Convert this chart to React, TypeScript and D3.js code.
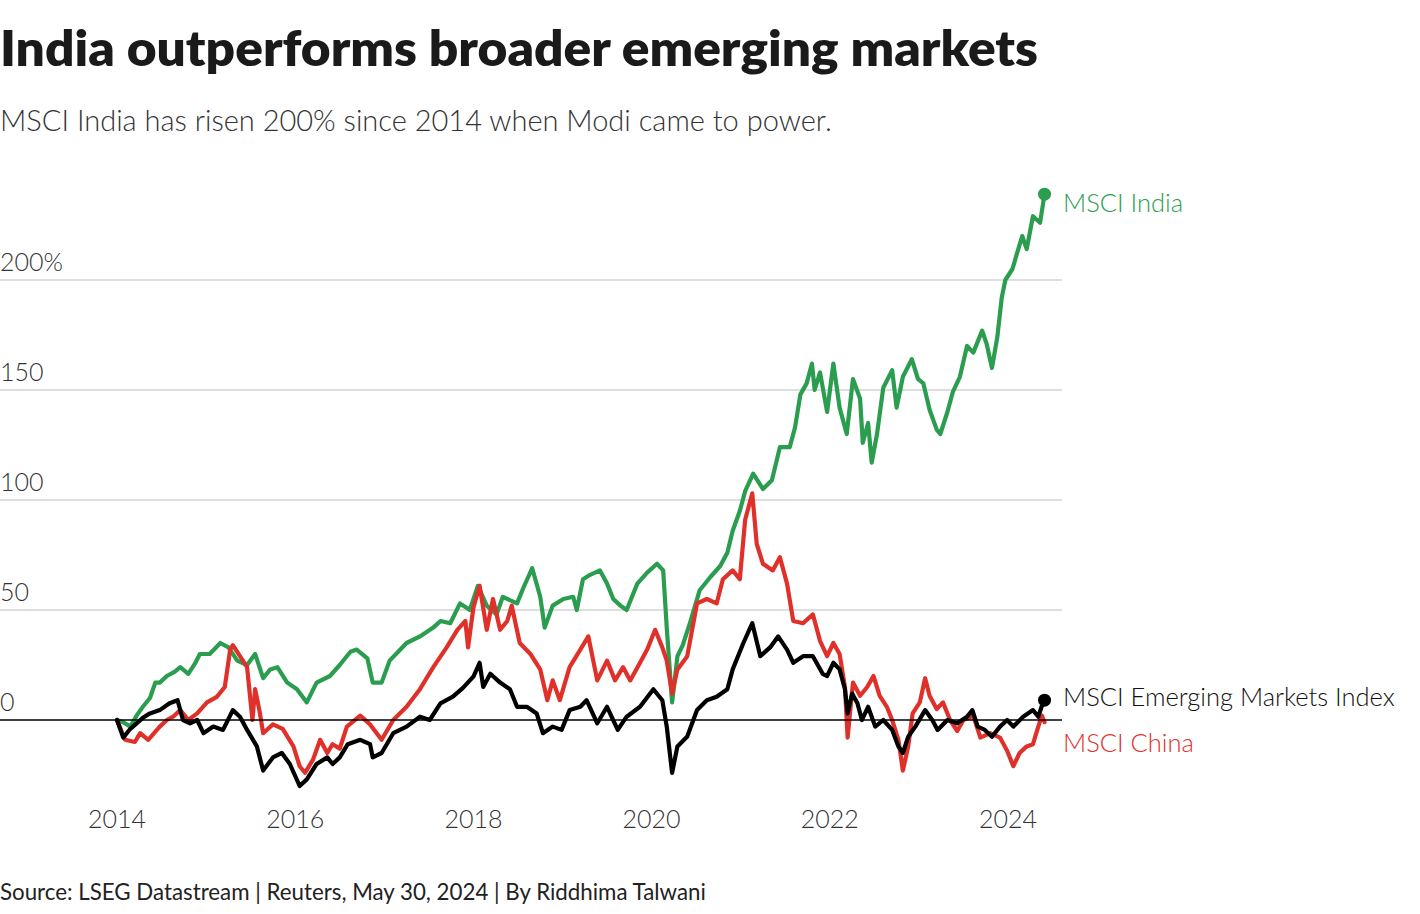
import React from 'react';
import * as d3 from 'd3';

// [decimal year, % change since start]
const india: [number, number][] = [
  [2014.00, 0], [2014.07, -1], [2014.15, -3], [2014.22, 2], [2014.29, 6], [2014.37, 10], [2014.43, 17], [2014.48, 17],
  [2014.56, 20], [2014.65, 22], [2014.71, 24], [2014.80, 21], [2014.88, 26], [2014.93, 30], [2015.04, 30], [2015.16, 35],
  [2015.25, 33], [2015.35, 27], [2015.46, 25], [2015.55, 30], [2015.64, 19], [2015.72, 23], [2015.80, 24], [2015.91, 17],
  [2016.02, 14], [2016.13, 8], [2016.24, 17], [2016.39, 20], [2016.50, 25], [2016.62, 31], [2016.69, 32], [2016.81, 28],
  [2016.87, 17], [2016.97, 17], [2017.06, 27], [2017.25, 35], [2017.40, 38], [2017.55, 42], [2017.63, 45], [2017.74, 44],
  [2017.85, 53], [2017.96, 50], [2018.05, 61], [2018.15, 52], [2018.26, 48], [2018.33, 56], [2018.49, 53], [2018.56, 60],
  [2018.66, 69], [2018.75, 56], [2018.80, 42], [2018.89, 52], [2019.01, 55], [2019.12, 56], [2019.16, 50], [2019.23, 64],
  [2019.31, 66], [2019.42, 68], [2019.50, 62], [2019.57, 55], [2019.65, 52], [2019.72, 50], [2019.84, 62], [2019.95, 67],
  [2020.06, 71], [2020.13, 68], [2020.17, 42], [2020.23, 8], [2020.29, 29], [2020.35, 34], [2020.43, 44], [2020.54, 59],
  [2020.66, 65], [2020.77, 70], [2020.85, 76], [2020.91, 86], [2020.99, 95], [2021.05, 104], [2021.14, 112], [2021.25, 105],
  [2021.35, 109], [2021.44, 124], [2021.55, 124], [2021.61, 133], [2021.67, 148], [2021.74, 153], [2021.80, 162], [2021.83, 150],
  [2021.89, 158], [2021.97, 140], [2022.04, 162], [2022.11, 142], [2022.19, 130], [2022.26, 155], [2022.34, 146], [2022.37, 126],
  [2022.43, 135], [2022.47, 117], [2022.53, 130], [2022.60, 151], [2022.65, 155], [2022.70, 159], [2022.75, 142], [2022.82, 156],
  [2022.92, 164], [2022.99, 155], [2023.05, 153], [2023.12, 141], [2023.20, 132], [2023.24, 130], [2023.32, 140], [2023.38, 149],
  [2023.46, 156], [2023.54, 170], [2023.61, 167], [2023.71, 177], [2023.76, 171], [2023.82, 160], [2023.88, 174], [2023.93, 192],
  [2023.97, 200], [2024.05, 205], [2024.10, 212], [2024.16, 220], [2024.21, 214], [2024.28, 229], [2024.36, 226], [2024.41, 239],
];

const china: [number, number][] = [
  [2014.00, 0], [2014.09, -9], [2014.20, -10], [2014.26, -6], [2014.35, -9], [2014.48, -3], [2014.56, 0], [2014.63, 1.5],
  [2014.71, 4.5], [2014.80, 0], [2014.90, 3], [2015.01, 8], [2015.12, 10.5], [2015.21, 15], [2015.27, 32], [2015.30, 34],
  [2015.38, 29], [2015.46, 24], [2015.52, 0], [2015.55, 14], [2015.60, 4], [2015.64, -6], [2015.75, -2], [2015.86, -4],
  [2015.98, -12], [2016.05, -21], [2016.11, -24], [2016.20, -18], [2016.28, -9], [2016.36, -15], [2016.42, -11], [2016.50, -13],
  [2016.58, -3], [2016.73, 2], [2016.84, -2], [2016.97, -9], [2017.10, 0], [2017.25, 6], [2017.40, 14], [2017.55, 24],
  [2017.70, 33], [2017.82, 41], [2017.91, 45], [2017.94, 33], [2018.00, 51], [2018.07, 61], [2018.15, 41], [2018.22, 55],
  [2018.30, 41], [2018.38, 45], [2018.43, 52], [2018.52, 35], [2018.64, 30], [2018.75, 23], [2018.83, 9], [2018.89, 18],
  [2018.97, 9], [2019.08, 24], [2019.20, 32], [2019.29, 38], [2019.39, 18], [2019.50, 27], [2019.59, 18], [2019.68, 24],
  [2019.76, 18], [2019.87, 26], [2019.95, 32], [2020.04, 41], [2020.12, 33], [2020.17, 27], [2020.23, 12], [2020.29, 23],
  [2020.40, 29], [2020.51, 53], [2020.62, 55], [2020.73, 53], [2020.80, 64], [2020.91, 68], [2020.99, 64], [2021.05, 91],
  [2021.13, 103], [2021.18, 80], [2021.25, 71], [2021.36, 68], [2021.44, 74], [2021.52, 62], [2021.59, 45], [2021.70, 44],
  [2021.81, 48], [2021.89, 36], [2021.97, 29], [2022.04, 35], [2022.11, 30], [2022.17, 15], [2022.20, -8], [2022.26, 17],
  [2022.34, 11], [2022.42, 15], [2022.49, 20], [2022.56, 11], [2022.64, 6], [2022.70, 0], [2022.77, -9], [2022.82, -23],
  [2022.88, -12], [2022.93, 3], [2023.01, 8], [2023.07, 19], [2023.12, 11], [2023.20, 5], [2023.27, 8], [2023.35, 0],
  [2023.43, -5], [2023.50, 0], [2023.61, 2], [2023.69, -8], [2023.80, -6], [2023.91, -8], [2023.99, -14], [2024.06, -21],
  [2024.13, -15], [2024.21, -12], [2024.28, -11], [2024.34, -3], [2024.38, 2], [2024.41, -1],
];

const emerging: [number, number][] = [
  [2014.00, 0], [2014.07, -8], [2014.15, -4], [2014.22, -1.5], [2014.29, 1], [2014.37, 3], [2014.48, 4.5], [2014.59, 7.6],
  [2014.68, 9], [2014.74, 0], [2014.82, -1.5], [2014.90, 0], [2014.97, -6], [2015.08, -3], [2015.19, -4.5], [2015.30, 4.5],
  [2015.38, 1.5], [2015.46, -4.5], [2015.57, -12], [2015.64, -23], [2015.75, -17], [2015.85, -15], [2015.94, -20], [2016.05, -30],
  [2016.13, -27], [2016.24, -20], [2016.36, -17], [2016.42, -20], [2016.50, -17], [2016.59, -11], [2016.73, -9], [2016.84, -11],
  [2016.87, -17], [2016.97, -15], [2017.10, -6], [2017.25, -3], [2017.40, 1.5], [2017.51, 0], [2017.63, 7.6], [2017.77, 10.6],
  [2017.88, 14.5], [2018.00, 19.7], [2018.07, 26], [2018.11, 15], [2018.19, 21], [2018.30, 17], [2018.41, 14], [2018.49, 6],
  [2018.60, 6], [2018.71, 3], [2018.78, -6], [2018.89, -3], [2018.99, -4.5], [2019.08, 4.5], [2019.20, 6], [2019.27, 9],
  [2019.39, -1.5], [2019.50, 6], [2019.62, -4.5], [2019.72, 1.5], [2019.87, 6], [2020.02, 14], [2020.12, 9], [2020.17, -3],
  [2020.23, -24], [2020.29, -12], [2020.40, -7.5], [2020.51, 4.5], [2020.62, 9], [2020.73, 10.6], [2020.85, 14], [2020.91, 23],
  [2021.03, 35], [2021.13, 44], [2021.22, 29], [2021.33, 33], [2021.42, 38], [2021.52, 32], [2021.59, 26], [2021.70, 29],
  [2021.81, 29], [2021.92, 21], [2021.97, 20], [2022.04, 26], [2022.11, 23], [2022.17, 14], [2022.20, 3], [2022.25, 12],
  [2022.31, 7.6], [2022.36, 0], [2022.43, 6], [2022.51, -3], [2022.60, 0], [2022.70, -4.5], [2022.77, -12], [2022.82, -15],
  [2022.88, -7.6], [2022.96, -3], [2023.07, 4.5], [2023.15, 0], [2023.21, -4.5], [2023.32, 0], [2023.43, -1.5], [2023.54, 1.5],
  [2023.60, 4.5], [2023.66, -3], [2023.74, -4.5], [2023.82, -7.6], [2023.91, -3], [2023.99, 0], [2024.06, -3], [2024.17, 1.5],
  [2024.28, 4.5], [2024.34, 1.5], [2024.39, 7.6], [2024.41, 9],
];

const yTicks = [0, 50, 100, 150, 200];
const yTickLabels = ['0', '50', '100', '150', '200%'];
const xTicks = [2014, 2016, 2018, 2020, 2022, 2024];

const FONT = 'Lato, "Source Sans Pro", "Noto Sans", sans-serif';
const GREEN = '#2a9d4f';
const RED = '#e0302a';
const BLACK = '#000';

export default function App() {
  const width = 1420;
  const height = 914;

  const x = d3.scaleLinear().domain([2014, 2024]).range([117, 1008]);
  const y = d3.scaleLinear().domain([0, 200]).range([720, 280]);

  const line = d3.line<[number, number]>()
    .x(d => x(d[0]))
    .y(d => y(d[1]))
    .curve(d3.curveLinear);

  const gridRight = 1062;
  const lastIndia = india[india.length - 1];
  const lastEm = emerging[emerging.length - 1];

  return (
    <svg width={width} height={height} style={{ position: 'absolute', left: 0, top: 0, background: '#fff' }} fontFamily={FONT}>
      <rect width={width} height={height} fill="#fff" />

      <text x={0} y={66} fontSize={50} fontWeight={800} fill="#1a1a1a" textLength={1038} lengthAdjust="spacingAndGlyphs">India outperforms broader emerging markets</text>
      <text x={0} y={131} fontSize={29} fontWeight={300} fill="#333">MSCI India has risen 200% since 2014 when Modi came to power.</text>

      {/* gridlines */}
      {yTicks.filter(v => v !== 0).map(v => (
        <line key={v} x1={0} x2={gridRight} y1={y(v)} y2={y(v)} stroke="#bdbdbd" strokeWidth={1} />
      ))}
      {yTicks.map((v, i) => (
        <text key={'t' + v} x={0} y={y(v) - 9} fontSize={25} fontWeight={300} fill="#333">{yTickLabels[i]}</text>
      ))}

      {xTicks.map(v => (
        <text key={v} x={x(v)} y={828} fontSize={25} fontWeight={300} fill="#333" textAnchor="middle">{v}</text>
      ))}

      <path d={line(india) || ''} fill="none" stroke={GREEN} strokeWidth={4.2} strokeLinejoin="round" strokeLinecap="round" />
      <path d={line(china) || ''} fill="none" stroke={RED} strokeWidth={4.2} strokeLinejoin="round" strokeLinecap="round" />
      <path d={line(emerging) || ''} fill="none" stroke={BLACK} strokeWidth={4.2} strokeLinejoin="round" strokeLinecap="round" />

      {/* zero baseline */}
      <line x1={0} x2={gridRight} y1={y(0)} y2={y(0)} stroke="#000" strokeWidth={1.5} />

      <circle cx={x(lastIndia[0])} cy={y(lastIndia[1])} r={6.5} fill={GREEN} />
      <circle cx={x(lastEm[0])} cy={y(lastEm[1])} r={6.5} fill={BLACK} />

      <text x={1063} y={212} fontSize={25.5} fontWeight={300} fill={GREEN}>MSCI India</text>
      <text x={1063} y={706} fontSize={25.5} fontWeight={300} fill="#111">MSCI Emerging Markets Index</text>
      <text x={1063} y={752} fontSize={25.5} fontWeight={300} fill={RED}>MSCI China</text>

      <text x={0} y={900} fontSize={22.3} fontWeight={400} fill="#222">Source: LSEG Datastream | Reuters, May 30, 2024 | By Riddhima Talwani</text>
    </svg>
  );
}
